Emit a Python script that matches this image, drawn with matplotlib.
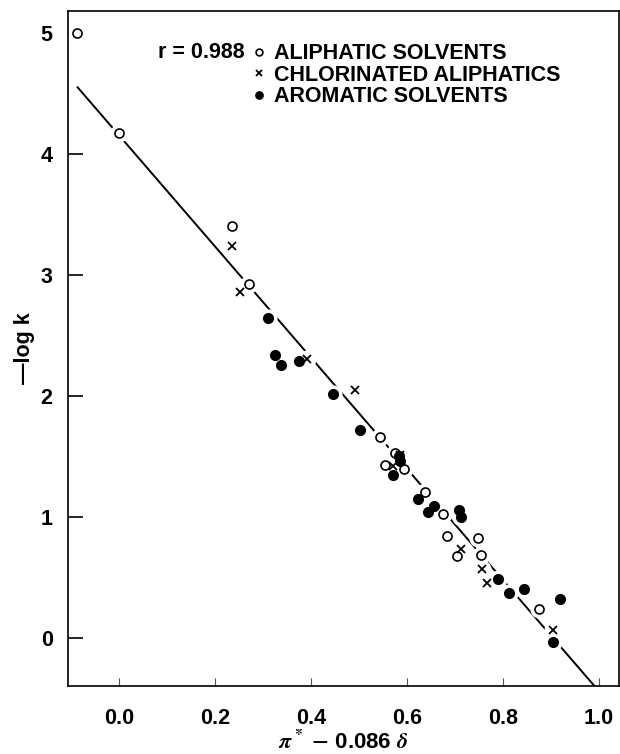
import matplotlib
matplotlib.use('Agg')
import matplotlib.pyplot as plt
import numpy as np

plt.rcParams['font.family'] = ['Liberation Sans', 'DejaVu Sans']
plt.rcParams['font.weight'] = 'bold'
plt.rcParams['axes.labelweight'] = 'bold'
plt.rcParams['mathtext.fontset'] = 'stix'

# open circles
aliph_x = [-0.089, 0.0, 0.235, 0.271, 0.543, 0.575, 0.554, 0.593, 0.637,
           0.675, 0.684, 0.705, 0.748, 0.755, 0.875]
aliph_y = [5.0, 4.17, 3.40, 2.92, 1.66, 1.53, 1.43, 1.395, 1.20,
           1.02, 0.84, 0.676, 0.827, 0.684, 0.237]
# crosses
chlor_x = [0.235, 0.251, 0.392, 0.491, 0.570, 0.585, 0.712, 0.757, 0.767, 0.905]
chlor_y = [3.24, 2.86, 2.30, 2.05, 1.42, 1.51, 0.733, 0.566, 0.45, 0.064]
# filled circles
arom_x = [0.310, 0.324, 0.338, 0.374, 0.446, 0.502, 0.583, 0.586, 0.571,
          0.623, 0.657, 0.644, 0.709, 0.712, 0.790, 0.812, 0.844, 0.920, 0.905]
arom_y = [2.64, 2.34, 2.25, 2.29, 2.01, 1.72, 1.50, 1.46, 1.345,
          1.145, 1.09, 1.037, 1.056, 0.996, 0.486, 0.372, 0.403, 0.32, -0.04]

# regression line
fit_x = [-0.087, 0.992]
fit_intercept = 4.15
fit_slope = -4.59

xticks = [0.0, 0.2, 0.4, 0.6, 0.8, 1.0]
yticks = [0, 1, 2, 3, 4, 5]

fig = plt.figure(figsize=(6.2, 7.54), dpi=100)
ax = fig.add_axes([0.1097, 0.0902, 0.8883, 0.8952])

fx = np.array(fit_x)
ax.plot(fx, fit_intercept + fit_slope * fx, color='black', lw=1.4, zorder=1)

# white halos break the line around each point
all_x = aliph_x + chlor_x + arom_x
all_y = aliph_y + chlor_y + arom_y
ax.scatter(all_x, all_y, s=170, color='white', zorder=2, linewidths=0)

ax.plot(aliph_x, aliph_y, 'o', ms=6.5, mfc='white', mec='black', mew=1.2,
        ls='none', zorder=3, label='ALIPHATIC SOLVENTS')
ax.plot(chlor_x, chlor_y, 'x', ms=5.5, color='black', mew=1.3,
        ls='none', zorder=3, label='CHLORINATED ALIPHATICS')
ax.plot(arom_x, arom_y, 'o', ms=7, color='black',
        ls='none', zorder=3, label='AROMATIC SOLVENTS')

ax.set_xlim(-0.107, 1.042)
ax.set_ylim(-0.40, 5.18)
ax.set_xticks(xticks)
ax.set_xticklabels(['%.1f' % v for v in xticks])
ax.set_yticks(yticks)
ax.tick_params(axis='x', direction='in', length=6, width=0.8, pad=16,
               labelsize=15.5, color='#555555')
ax.tick_params(axis='y', direction='in', length=11, width=1.2, pad=11,
               labelsize=15.5)
for s in ax.spines.values():
    s.set_linewidth(1.2)

ax.set_xlabel(r'$\pi^*$ $-$ 0.086 $\delta$', fontsize=16, labelpad=1,
              fontweight='bold')
ax.set_ylabel('\u2014log k', fontsize=15.5, labelpad=4, fontweight='bold')

ax.legend(loc='upper left', bbox_to_anchor=(0.335, 0.952), frameon=False,
          handlelength=0.6, handletextpad=0.4, labelspacing=0.02,
          borderpad=0, borderaxespad=0, markerscale=0.75,
          prop={'size': 15.5, 'weight': 'bold'})
ax.text(0.321, 0.938, 'r = 0.988', transform=ax.transAxes, ha='right',
        va='center', fontsize=15.5, fontweight='bold')

fig.savefig('out.png', dpi=100)
